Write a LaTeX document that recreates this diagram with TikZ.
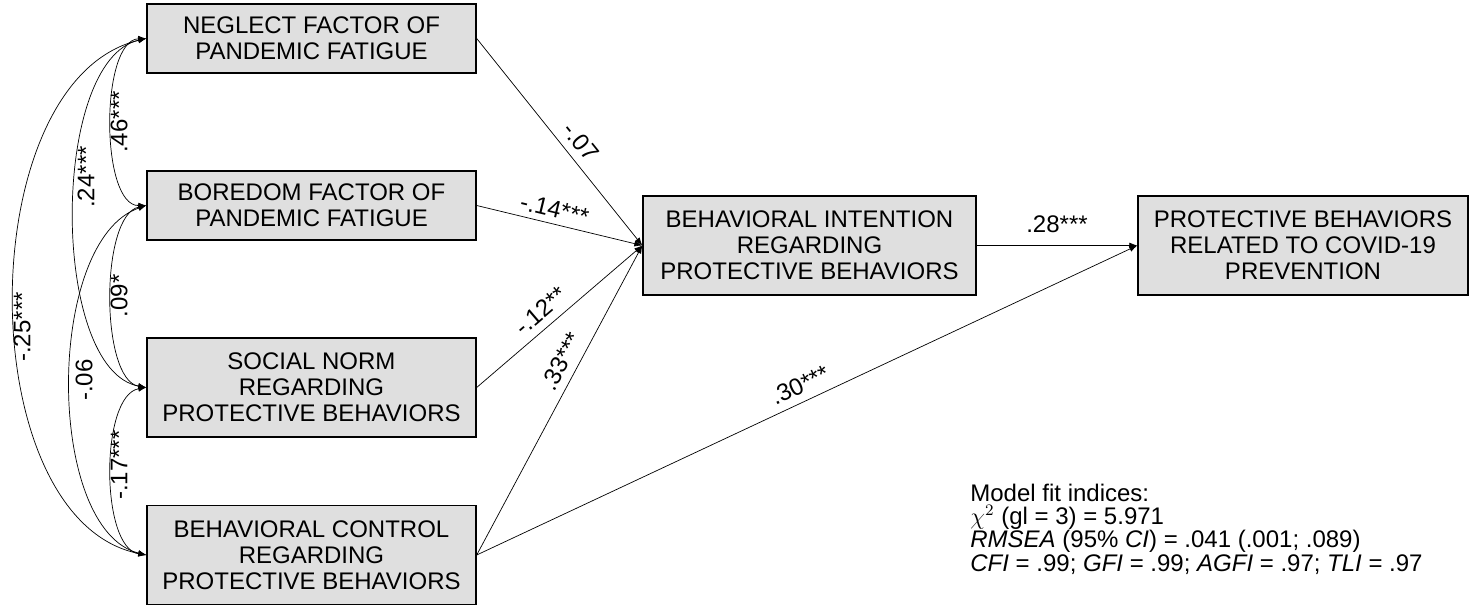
\documentclass[tikz,border=0pt]{standalone}
\usepackage{fontspec}
\setmainfont{Liberation Sans}
\usetikzlibrary{arrows.meta}
\begin{document}
\begin{tikzpicture}[x=0.5pt,y=-0.5pt,
  box/.style={draw,fill=gray!25,line width=0.7pt,align=center,font=\fontsize{12}{13}\selectfont,inner sep=0pt,minimum height=#1},
  lab/.style={font=\fontsize{12}{13}\selectfont,inner sep=1pt},
  fitl/.style={font=\fontsize{12}{13}\selectfont,inner sep=0pt,anchor=west},
  arr/.style={-{Latex[length=4pt,width=3pt]},line width=0.35pt},
  cov/.style={{Latex[length=4pt,width=3pt]}-{Latex[length=4pt,width=3pt]},line width=0.35pt}]
\useasboundingbox (0,0) rectangle (1474,610);
\node[box=34.5pt,minimum width=164.5pt] (ne) at (311.5,38.5) {NEGLECT FACTOR OF\\PANDEMIC FATIGUE};
\node[box=34.5pt,minimum width=164.5pt] (bo) at (311.5,205.5) {BOREDOM FACTOR OF\\PANDEMIC FATIGUE};
\node[box=49.5pt,minimum width=164.5pt] (sn) at (311.5,387.5) {SOCIAL NORM\\REGARDING\\PROTECTIVE BEHAVIORS};
\node[box=49.5pt,minimum width=164.5pt] (bc) at (311.5,555) {BEHAVIORAL CONTROL\\REGARDING\\PROTECTIVE BEHAVIORS};
\node[box=49.5pt,minimum width=166.5pt] (bi) at (809.5,245.5) {BEHAVIORAL INTENTION\\REGARDING\\PROTECTIVE BEHAVIORS};
\node[box=49.5pt,minimum width=165pt] (pb) at (1303,245.5) {PROTECTIVE BEHAVIORS\\RELATED TO COVID-19\\PREVENTION};
\coordinate (t) at (bi.west);
\draw[arr] (ne.east) -- (t) node[lab,pos=0.55,sloped,above=3pt] {-.07};
\draw[arr] (bo.east) -- (t) node[lab,pos=0.45,sloped,above=2pt] {-.14***};
\draw[arr] (sn.east) -- (t) node[lab,pos=0.45,sloped,above=3pt] {-.12**};
\draw[arr] (bc.east) -- (t) node[lab,pos=0.6,sloped,above=3pt] {.33***};
\draw[arr] (bi.east) -- (pb.west) node[lab,midway,above=5pt] {.28***};
\draw[arr] (bc.east) -- (pb.west) node[lab,pos=0.5,sloped,above=3pt] {.30***};
\draw[cov] (ne.west) .. controls (100,40) and (100,206) .. (bo.west);
\node[lab,rotate=90] at (119,122) {.46***};
\draw[cov] (ne.west) .. controls (50,60) and (50,370) .. (sn.west);
\node[lab,rotate=90] at (86,177) {.24***};
\draw[cov] (ne.west) .. controls (-30,80) and (-30,520) .. (bc.west);
\node[lab,rotate=90] at (22,327) {-.25***};
\draw[cov] (bo.west) .. controls (100,215) and (100,380) .. (sn.west);
\node[lab,rotate=90] at (119,296) {.09*};
\draw[cov] (bo.west) .. controls (45,240) and (45,530) .. (bc.west);
\node[lab,rotate=90] at (84,380) {-.06};
\draw[cov] (sn.west) .. controls (100,395) and (100,548) .. (bc.west);
\node[lab,rotate=90] at (119,465) {-.17***};
\node[fitl] (f1) at (970,493) {Model fit indices:};
\node[fitl] (f2) at (970,517) {$\chi^{2}$ (gl = 3) = 5.971};
\node[fitl] (f3) at (970,541) {\textit{RMSEA} (95\% \textit{CI}) = .041 (.001; .089)};
\node[fitl] (f4) at (970,565) {\textit{CFI} = .99; \textit{GFI} = .99; \textit{AGFI} = .97; \textit{TLI} = .97};
\end{tikzpicture}
\end{document}
